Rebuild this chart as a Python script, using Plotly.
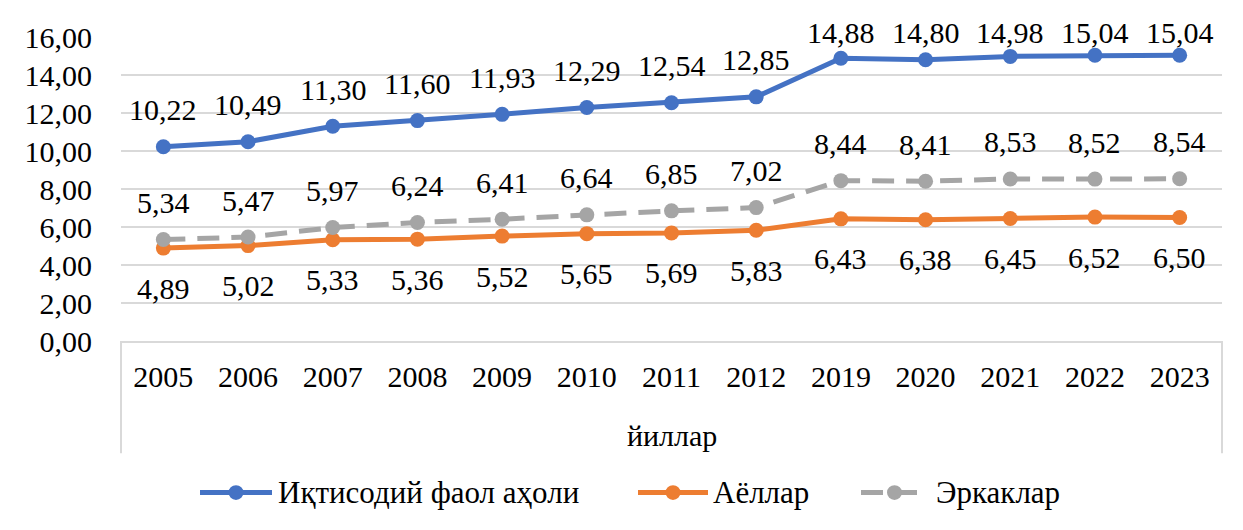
import plotly.graph_objects as go

years = ["2005", "2006", "2007", "2008", "2009", "2010", "2011", "2012",
         "2019", "2020", "2021", "2022", "2023"]
active = [10.22, 10.49, 11.30, 11.60, 11.93, 12.29, 12.54, 12.85, 14.88, 14.80, 14.98, 15.04, 15.04]
women = [4.89, 5.02, 5.33, 5.36, 5.52, 5.65, 5.69, 5.83, 6.43, 6.38, 6.45, 6.52, 6.50]
men = [5.34, 5.47, 5.97, 6.24, 6.41, 6.64, 6.85, 7.02, 8.44, 8.41, 8.53, 8.52, 8.54]
names = ["Иқтисодий фаол аҳоли", "Аёллар", "Эркаклар"]
colors = ["#4472C4", "#ED7D31", "#A5A5A5"]
x_title = "йиллар"

# page body adds an 8px offset; work in reference pixel coords and shift
OFF = 8
W, H = 1243 - OFF, 530 - OFF
L, R, T, B = 121 - OFF, 1222 - OFF, 32 - OFF, 341 - OFF
FONT = "Liberation Serif"
FS = 30
FS_LEG = 31
YMAX = 16
TOP_LIMIT = 28  # reference px: label centres are kept inside the chart


def px(x):
    return (x - OFF - L) / (R - L)


def py(y):
    return (B - (y - OFF)) / (B - T)


def fmt(v):
    return f"{v:.2f}".replace(".", ",")


fig = go.Figure()
series = [active, women, men]
dashes = ["solid", "solid", "22px,12px"]
for vals, name, col, dash in zip(series, names, colors, dashes):
    fig.add_trace(go.Scatter(
        x=years, y=vals, name=name, mode="lines+markers",
        line=dict(color=col, width=5, dash=dash),
        marker=dict(color=col, size=15),
        showlegend=False, hoverinfo="skip",
    ))

scale = (B - T) / YMAX
annotations = []
shifts = [37, -40, 37]
for vals, sh in zip(series, shifts):
    for i, v in enumerate(vals):
        s = sh
        if sh > 0:
            ypix_ref = (B - v * scale) + OFF
            s = min(sh, ypix_ref - TOP_LIMIT)
        annotations.append(dict(
            x=i, y=v, xref="x", yref="y", text=fmt(v), showarrow=False, yshift=s,
            xanchor="center", yanchor="middle",
            font=dict(family=FONT, size=FS, color="black"),
        ))

# x-axis title
annotations.append(dict(
    xref="paper", yref="paper", x=px(671.5), y=py(437), text=x_title,
    showarrow=False, xanchor="center", yanchor="middle",
    font=dict(family=FONT, size=FS, color="black"),
))

shapes = []
# category box side lines
for xx in (121, 1222):
    shapes.append(dict(type="line", xref="paper", yref="paper",
                       x0=px(xx), x1=px(xx), y0=py(341), y1=py(455),
                       line=dict(color="#d9d9d9", width=2)))

# custom legend
LY = 495
legend_items = [(200, 272, 278), (638, 708, 713), (861, 928, 936)]
for (x0, x1, tx), name, col, dash in zip(legend_items, names, colors, dashes):
    shapes.append(dict(type="line", xref="paper", yref="paper",
                       x0=px(x0), x1=px(x1), y0=py(LY), y1=py(LY),
                       line=dict(color=col, width=5, dash=dash)))
    cx = (x0 + x1) / 2
    r = 7.5
    shapes.append(dict(type="circle", xref="paper", yref="paper",
                       x0=px(cx - r), x1=px(cx + r), y0=py(LY - r), y1=py(LY + r),
                       fillcolor=col, line=dict(color=col, width=0)))
    annotations.append(dict(
        xref="paper", yref="paper", x=px(tx - 2), y=py(LY), text=name,
        showarrow=False, xanchor="left", yanchor="middle",
        font=dict(family=FONT, size=FS_LEG, color="black"),
    ))

fig.update_layout(
    width=W, height=H,
    margin=dict(l=L, r=W - R, t=T, b=H - B),
    paper_bgcolor="white", plot_bgcolor="white",
    separators=", ",
    font=dict(family=FONT, size=FS, color="black"),
    annotations=annotations, shapes=shapes,
    showlegend=False,
    xaxis=dict(type="category", range=[-0.5, len(years) - 0.5],
               showgrid=False, zeroline=False,
               showline=True, linecolor="#d9d9d9", linewidth=2,
               ticks="", ticklabelstandoff=8,
               tickfont=dict(family=FONT, size=FS, color="black")),
    yaxis=dict(range=[0, YMAX], dtick=2, tickformat=".2f",
               showgrid=True, gridcolor="#d9d9d9", gridwidth=2,
               zeroline=False, showline=False, ticks="",
               ticklabelstandoff=28,
               tickfont=dict(family=FONT, size=FS, color="black")),
)

fig.write_html("out.html")
